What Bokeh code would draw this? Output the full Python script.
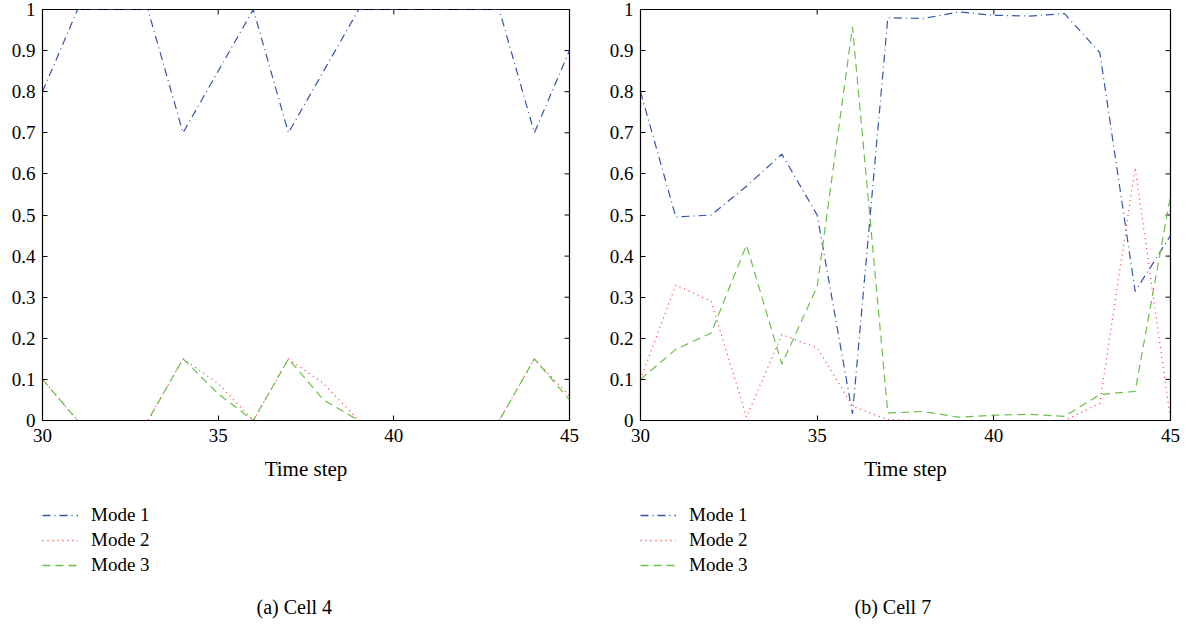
import math
from bokeh.plotting import figure
from bokeh.models import (Legend, LegendItem, Title, LinearAxis, FixedTicker,
                          Range1d, CustomJSTickFormatter)
from bokeh.layouts import row, column
from bokeh.embed import file_html
from bokeh.resources import INLINE

# ---------------- data ----------------
steps = list(range(30, 46))

cell4_mode1 = [0.80, 1.00, 1.00, 1.00, 0.70, 0.85, 1.00, 0.70, 0.85, 1.00, 1.00, 1.00, 1.00, 1.00, 0.70, 0.90]
cell4_mode2 = [0.10, 0.00, 0.00, 0.00, 0.15, 0.09, 0.00, 0.15, 0.09, 0.00, 0.00, 0.00, 0.00, 0.00, 0.15, 0.06]
cell4_mode3 = [0.10, 0.00, 0.00, 0.00, 0.15, 0.065, 0.00, 0.15, 0.05, 0.00, 0.00, 0.00, 0.00, 0.00, 0.15, 0.05]

cell7_mode1 = [0.80, 0.495, 0.50, 0.57, 0.648, 0.50, 0.016, 0.98, 0.978, 0.994, 0.986, 0.984, 0.99, 0.895, 0.314, 0.45]
cell7_mode2 = [0.10, 0.33, 0.29, 0.008, 0.209, 0.177, 0.035, 0.002, 0.0, 0.0, 0.0, 0.0, 0.0, 0.042, 0.615, 0.003]
cell7_mode3 = [0.10, 0.173, 0.213, 0.427, 0.137, 0.326, 0.958, 0.018, 0.022, 0.008, 0.013, 0.015, 0.01, 0.063, 0.071, 0.547]

x_ticks = [30, 35, 40, 45]
y_ticks = [0.0, 0.1, 0.2, 0.3, 0.4, 0.5, 0.6, 0.7, 0.8, 0.9, 1.0]
mode_labels = ["Mode 1", "Mode 2", "Mode 3"]
x_label = "Time step"
captions = ["(a) Cell 4", "(b) Cell 7"]

# ---------------- style ----------------
FONT = "Liberation Serif"
COLORS = ["#3555aa", "#ff3030", "#6cbf4a"]
DASHES = ["8 4 1 4", "1 4", "8 5"]

fmt = CustomJSTickFormatter(code="return String(Number(tick.toFixed(1)));")


def style_axis(ax):
    ax.axis_line_color = "black"
    ax.axis_line_width = 1
    ax.major_tick_in = 5
    ax.major_tick_out = 0
    ax.minor_tick_line_color = None
    ax.major_tick_line_color = "black"
    ax.major_tick_line_width = 1
    ax.major_label_text_font = FONT
    ax.major_label_text_font_size = "19px"
    ax.major_label_text_color = "black"


def base_fig(width, height, left, right, top, bottom):
    p = figure(width=width, height=height, output_backend="svg", toolbar_location=None,
               x_range=Range1d(30, 45), y_range=Range1d(0, 1),
               min_border_left=left, min_border_right=right,
               min_border_top=top, min_border_bottom=bottom,
               x_axis_location=None, y_axis_location=None)
    p.background_fill_color = "white"
    p.border_fill_color = "white"
    p.xgrid.visible = False
    p.ygrid.visible = False
    return p


def make_panel(series, caption, width, left, right):
    # ---- chart ----
    p = base_fig(width, 490, left, right, 9, 70)
    p.outline_line_color = "black"
    p.outline_line_width = 1.2

    xb = LinearAxis(ticker=FixedTicker(ticks=x_ticks), axis_label=x_label)
    style_axis(xb)
    xb.major_label_standoff = 8
    xb.axis_label_text_font = FONT
    xb.axis_label_text_font_size = "21px"
    xb.axis_label_text_font_style = "normal"
    xb.axis_label_text_color = "black"
    xb.axis_label_standoff = 12
    p.add_layout(xb, "below")

    yl = LinearAxis(ticker=FixedTicker(ticks=y_ticks), formatter=fmt)
    style_axis(yl)
    yl.major_label_standoff = 7
    p.add_layout(yl, "left")

    # mirrored inward ticks on the top and right edges
    p.ray(x=x_ticks, y=[1.0] * len(x_ticks), length=5, length_units="screen",
          angle=-math.pi / 2, line_color="black", line_width=1)
    p.ray(x=[45] * len(y_ticks), y=y_ticks, length=5, length_units="screen",
          angle=math.pi, line_color="black", line_width=1)

    for vals, col, dash in zip(series, COLORS, DASHES):
        p.line(steps, vals, line_color=col, line_dash=dash, line_width=1.2)

    # ---- legend + caption strip ----
    q = base_fig(width, 136, left, right, 14, 41)
    q.outline_line_color = None
    items = []
    for vals, col, dash, lab in zip(series, COLORS, DASHES, mode_labels):
        r = q.line(steps, vals, line_color=col, line_dash=dash, line_width=1.6, visible=False)
        items.append(LegendItem(label=lab, renderers=[r]))
    legend = Legend(items=items, location="top_left", orientation="vertical",
                    margin=0, padding=0, spacing=3,
                    glyph_width=36, glyph_height=20, label_height=20,
                    label_standoff=13, label_text_font=FONT,
                    label_text_font_size="19px", label_text_color="black",
                    border_line_color=None, background_fill_alpha=0,
                    inactive_fill_alpha=0, click_policy="none")
    q.add_layout(legend, "center")

    t = Title(text=caption, align="left", text_font=FONT, text_font_size="20px",
              text_font_style="normal", text_color="black", standoff=18, offset=214)
    q.add_layout(t, "below")
    return column(p, q, spacing=0)


c1 = make_panel([cell4_mode1, cell4_mode2, cell4_mode3], captions[0], 594, 42, 25)
c2 = make_panel([cell7_mode1, cell7_mode2, cell7_mode3], captions[1], 595, 46, 19)

layout = row(c1, c2, spacing=0)
open("out.html", "w").write(file_html(layout, INLINE))
